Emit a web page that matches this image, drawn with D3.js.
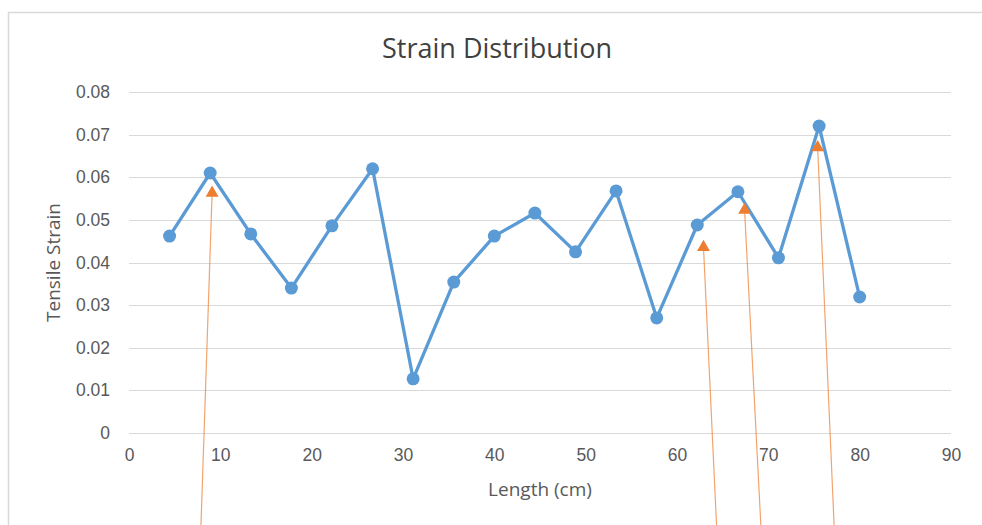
<!DOCTYPE html>
<html>
<head>
<meta charset="utf-8">
<script src="https://cdn.jsdelivr.net/npm/d3@7"></script>
<style>
  body { margin: 0; background: #fff; }
  svg { display: block; font-family: "Open Sans", "Liberation Sans", sans-serif; }
</style>
</head>
<body>
<div id="chart"></div>
<script>
// blue series: length (cm) vs tensile strain
var lengths = [4.44, 8.89, 13.33, 17.78, 22.22, 26.67, 31.11, 35.56, 40, 44.44, 48.89, 53.33, 57.78, 62.22, 66.67, 71.11, 75.56, 80];
var strains = [0.0462, 0.0610, 0.0467, 0.0340, 0.0486, 0.0620, 0.0127, 0.0354, 0.0462, 0.0516, 0.0425, 0.0568, 0.0270, 0.0488, 0.0566, 0.0411, 0.0720, 0.0319];

// orange markers and the leader lines hanging below them
var markX = [9.1, 62.9, 67.4, 75.4];
var markY = [0.0563, 0.0436, 0.0523, 0.0670];
var leadEndX = [7.88, 64.33, 69.18, 77.2];
var leadEndY = [-0.0216, -0.0216, -0.0216, -0.0216];

var xTicks = [0, 10, 20, 30, 40, 50, 60, 70, 80, 90];
var yTicks = [0, 0.01, 0.02, 0.03, 0.04, 0.05, 0.06, 0.07, 0.08];
var yTickLabels = ["0", "0.01", "0.02", "0.03", "0.04", "0.05", "0.06", "0.07", "0.08"];

var width = 982;
var height = 525;
var margin = { top: 92, right: 31, bottom: 92, left: 129 };

var x = d3.scaleLinear().domain([0, 90]).range([margin.left, width - margin.right]);
var y = d3.scaleLinear().domain([0, 0.08]).range([height - margin.bottom, margin.top]);

var svg = d3.select("#chart")
    .append("svg")
    .attr("width", width)
    .attr("height", height);

// chart frame (only top and left edges visible in the crop)
svg.append("path")
    .attr("d", "M8.5,525 V12.5 H982")
    .attr("fill", "none")
    .attr("stroke", "#d9d9d9")
    .attr("stroke-width", 1.5);

// gridlines
svg.append("g")
    .selectAll("line")
    .data(yTicks)
    .enter()
    .append("line")
    .attr("x1", x(0))
    .attr("x2", x(90))
    .attr("y1", function (d) { return Math.round(y(d)) + 0.5; })
    .attr("y2", function (d) { return Math.round(y(d)) + 0.5; })
    .attr("stroke", "#d9d9d9")
    .attr("stroke-width", 1);

// y axis labels
var yAxis = d3.axisLeft(y)
    .tickValues(yTicks)
    .tickFormat(function (d, i) { return yTickLabels[i]; })
    .tickSize(0)
    .tickPadding(19);

var gy = svg.append("g")
    .attr("transform", "translate(" + x(0) + ",0)")
    .call(yAxis);
gy.select(".domain").remove();
gy.selectAll("text")
    .style("font-size", "17.5px")
    .attr("fill", "#595959");

// x axis labels
var xAxis = d3.axisBottom(x)
    .tickValues(xTicks)
    .tickFormat(d3.format("d"))
    .tickSize(0)
    .tickPadding(16);

var gx = svg.append("g")
    .attr("transform", "translate(0," + y(0) + ")")
    .call(xAxis);
gx.select(".domain").remove();
gx.selectAll("text")
    .style("font-size", "17.5px")
    .attr("fill", "#595959");

// title
svg.append("text")
    .attr("x", 497)
    .attr("y", 58)
    .attr("text-anchor", "middle")
    .style("font-size", "27px")
    .attr("fill", "#404040")
    .text("Strain Distribution");

// axis titles
svg.append("text")
    .attr("x", (x(0) + x(90)) / 2)
    .attr("y", 496)
    .attr("text-anchor", "middle")
    .style("font-size", "19px")
    .attr("fill", "#595959")
    .text("Length (cm)");

svg.append("text")
    .attr("transform", "translate(60," + (y(0) + y(0.08)) / 2 + ") rotate(-90)")
    .attr("text-anchor", "middle")
    .style("font-size", "19px")
    .attr("fill", "#595959")
    .text("Tensile Strain");

var series = lengths.map(function (d, i) { return { x: d, y: strains[i] }; });
var marks = markX.map(function (d, i) {
    return { x: d, y: markY[i], ex: leadEndX[i], ey: leadEndY[i] };
});

// orange leader lines
svg.append("g")
    .selectAll("line")
    .data(marks)
    .enter()
    .append("line")
    .attr("x1", function (d) { return x(d.x); })
    .attr("y1", function (d) { return y(d.y); })
    .attr("x2", function (d) { return x(d.ex); })
    .attr("y2", function (d) { return y(d.ey); })
    .attr("stroke", "#ED7D31")
    .attr("stroke-opacity", 0.7)
    .attr("stroke-width", 1.2);

// blue line + markers
var line = d3.line()
    .x(function (d) { return x(d.x); })
    .y(function (d) { return y(d.y); });

svg.append("path")
    .datum(series)
    .attr("d", line)
    .attr("fill", "none")
    .attr("stroke", "#5B9BD5")
    .attr("stroke-width", 3.3)
    .attr("stroke-linejoin", "round");

svg.append("g")
    .selectAll("circle")
    .data(series)
    .enter()
    .append("circle")
    .attr("cx", function (d) { return x(d.x); })
    .attr("cy", function (d) { return y(d.y); })
    .attr("r", 6.5)
    .attr("fill", "#5B9BD5");

// orange triangles
var tri = d3.symbol().type(d3.symbolTriangle).size(72);
svg.append("g")
    .selectAll("path")
    .data(marks)
    .enter()
    .append("path")
    .attr("d", tri)
    .attr("transform", function (d) { return "translate(" + x(d.x) + "," + y(d.y) + ")"; })
    .attr("fill", "#ED7D31");
</script>
</body>
</html>
